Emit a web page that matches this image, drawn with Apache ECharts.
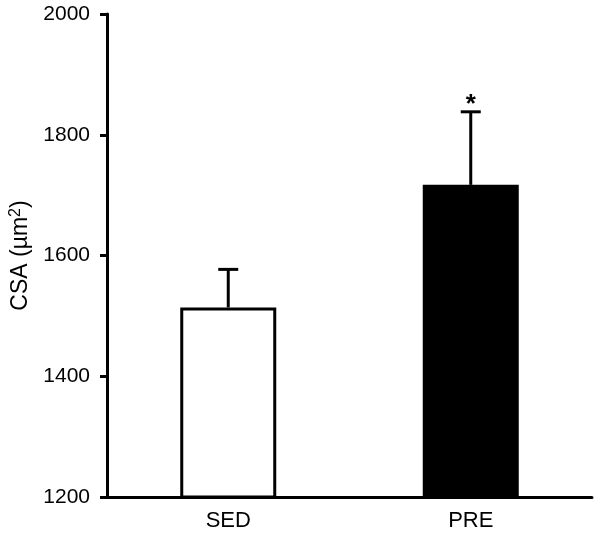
<!DOCTYPE html>
<html>
<head>
<meta charset="utf-8">
<script src="https://cdn.jsdelivr.net/npm/echarts@6/dist/echarts.min.js"></script>
<style>
  html, body { margin: 0; padding: 0; background: #fff; }
  #main { width: 600px; height: 537px; }
</style>
</head>
<body>
<div id="main"></div>
<script>
const categories = ['SED', 'PRE'];
const means = [1514, 1717];
const errTop = [1577, 1838];
const marks = ['', '*'];
const yTicks = { min: 1200, max: 2000, interval: 200 };

const myChart = echarts.init(document.getElementById('main'));
const font = 'Liberation Sans, Arial, sans-serif';

const option = {
  animation: false,
  grid: { left: 107, right: 8, top: 14, bottom: 40, outerBoundsMode: 'none', containLabel: false },
  xAxis: {
    type: 'category',
    data: categories,
    axisLine: { lineStyle: { color: '#000', width: 3 } },
    axisTick: { show: false },
    axisLabel: { color: '#000', fontSize: 22, fontFamily: font, margin: 13 }
  },
  yAxis: {
    type: 'value',
    min: yTicks.min,
    max: yTicks.max,
    interval: yTicks.interval,
    name: 'CSA (µm{sup|2})',
    nameLocation: 'middle',
    nameRotate: 90,
    nameGap: 73,
    nameTextStyle: {
      color: '#000', fontSize: 23, fontFamily: font,
      rich: { sup: { fontSize: 16, verticalAlign: 'top', padding: [0, 0, 10, 0], color: '#000', fontFamily: font } }
    },
    splitLine: { show: false },
    axisLine: { show: true, lineStyle: { color: '#000', width: 3 } },
    axisTick: { show: true, length: 7, lineStyle: { color: '#000', width: 3 } },
    axisLabel: {
      color: '#000', fontSize: 21, fontFamily: font, margin: 17,
      formatter: function (v) { return String(v); }
    }
  },
  series: [
    {
      type: 'bar',
      barWidth: 96,
      data: means.map((v, i) => ({
        value: v,
        itemStyle: { color: i === 0 ? '#fff' : '#000' }
      })),
      itemStyle: { borderColor: '#000', borderWidth: 3 },
      z: 2
    },
    {
      type: 'custom',
      data: categories.map((c, i) => [i, means[i], errTop[i]]),
      renderItem: function (params, api) {
        const base = api.coord([api.value(0), api.value(1)]);
        const top = api.coord([api.value(0), api.value(2)]);
        const half = 10;
        const children = [
          { type: 'line', shape: { x1: base[0], y1: base[1], x2: top[0], y2: top[1] }, style: { stroke: '#000', lineWidth: 3 } },
          { type: 'line', shape: { x1: top[0] - half, y1: top[1], x2: top[0] + half, y2: top[1] }, style: { stroke: '#000', lineWidth: 3 } }
        ];
        const m = marks[params.dataIndex];
        if (m) {
          children.push({
            type: 'text',
            style: { text: m, x: top[0], y: top[1] - 7, align: 'center', verticalAlign: 'middle', fontSize: 26, fontWeight: 'bold', fontFamily: font, fill: '#000' }
          });
        }
        return { type: 'group', children: children };
      },
      z: 3
    }
  ]
};

myChart.setOption(option);
</script>
</body>
</html>
